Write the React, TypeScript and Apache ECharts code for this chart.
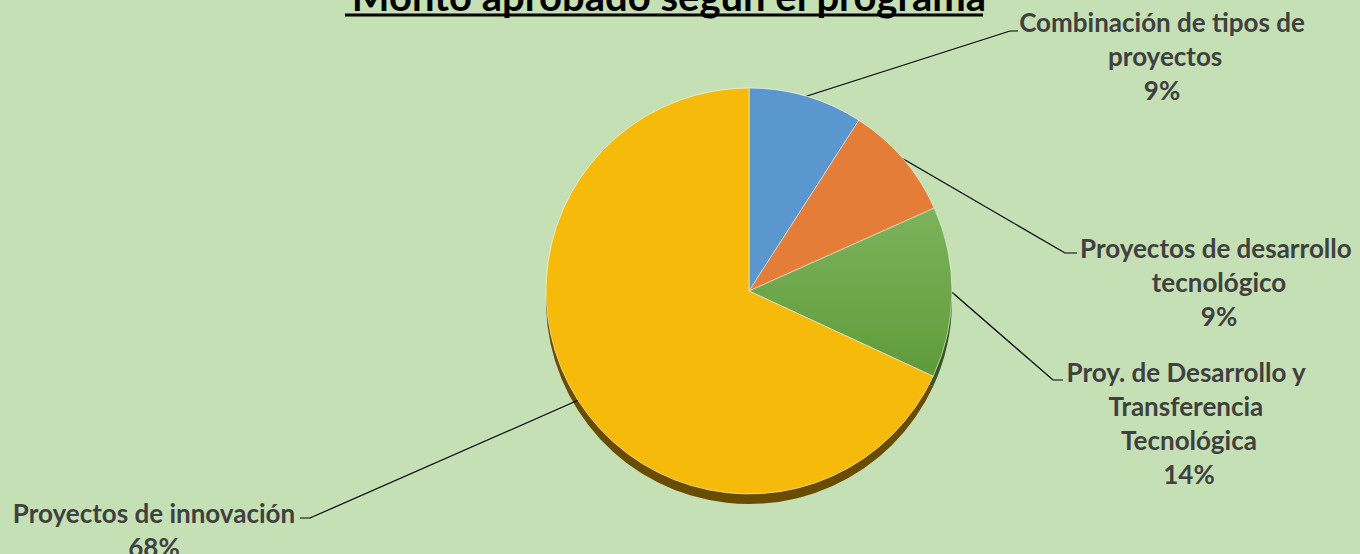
import React, { useEffect, useRef } from 'react';
import * as echarts from 'echarts';

const titleText = 'Monto aprobado según el programa';
const categories = [
  'Combinación de tipos de proyectos',
  'Proyectos de desarrollo tecnológico',
  'Proy. de Desarrollo y Transferencia Tecnológica',
  'Proyectos de innovación',
];
const values = [9.1, 9.2, 13.6, 68.1];

const colors = ['#5B97CF', '#E37D37', '#70AD47', '#F5BA0A'];
const shadowColors = ['#2E4D6B', '#7A3F16', '#385723', '#6A4C00'];

const labelLayouts = [
  { x: 1162, y: 5, width: 300, elbow: [1010, 31], end: [1018, 31] },
  { x: 1219, y: 231, width: 285, elbow: [1065, 253], end: [1077, 253] },
  { x: 1189, y: 355, width: 255, elbow: [1053, 380], end: [1063, 380] },
  { x: 154, y: 496, width: 330, elbow: [310, 518], end: [300, 518] },
];

const FONT = 'Lato, "Open Sans", sans-serif';

export default function App() {
  const ref = useRef<HTMLDivElement>(null);
  useEffect(() => {
    document.body.style.margin = '0';
    const chart = echarts.init(ref.current!, undefined, { renderer: 'svg' });
    const mainData = categories.map((name, i) => ({
      name,
      value: values[i],
      itemStyle: {
        color:
          i === 2
            ? {
                type: 'linear', x: 0, y: 0, x2: 0, y2: 1,
                colorStops: [
                  { offset: 0, color: '#7CB35C' },
                  { offset: 1, color: '#5F9B39' },
                ],
              }
            : colors[i],
      },
      label: { width: labelLayouts[i].width },
    }));
    const shadowData = categories.map((name, i) => ({
      name,
      value: values[i],
      itemStyle: { color: shadowColors[i] },
    }));
    chart.setOption({
      animation: false,
      backgroundColor: '#C5E0B4',
      title: {
        text: titleText,
        left: 664,
        textAlign: 'center',
        top: -29,
        textStyle: { fontFamily: FONT, fontWeight: 'bold', fontSize: 40, color: '#000' },
      },
      graphic: [
        { type: 'rect', shape: { x: 345, y: 13.5, width: 638, height: 3 }, style: { fill: '#000' } },
      ],
      series: [
        {
          type: 'pie',
          silent: true,
          center: [749, 301],
          radius: 203,
          startAngle: 90,
          label: { show: false },
          labelLine: { show: false },
          data: shadowData,
          z: 1,
        },
        {
          type: 'pie',
          center: [749, 291],
          radius: 203,
          startAngle: 90,
          z: 2,
          itemStyle: { borderColor: 'rgba(255,255,255,0.55)', borderWidth: 1 },
          label: {
            show: true,
            fontFamily: FONT,
            fontWeight: 'bold',
            fontSize: 26,
            lineHeight: 34,
            color: '#404040',
            overflow: 'break',
            align: 'center',
            formatter: (p: any) => `${p.name}\n${Math.round(p.percent)}%`,
          },
          labelLine: { show: true, lineStyle: { color: '#000', width: 1.2 } },
          labelLayout: (params: any) => {
            const L = labelLayouts[params.dataIndex];
            const pts = params.labelLinePoints;
            return {
              x: L.x,
              y: L.y,
              align: 'center',
              verticalAlign: 'top',
              labelLinePoints: [pts[0], L.elbow, L.end],
            };
          },
          data: mainData,
        },
      ],
    });
    return () => chart.dispose();
  }, []);
  return <div ref={ref} style={{ width: 1360, height: 554 }} />;
}
